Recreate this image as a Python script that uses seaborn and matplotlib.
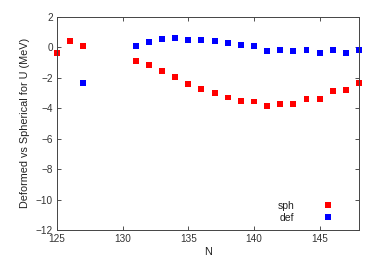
import numpy as np
import pandas as pd
import matplotlib
matplotlib.use("Agg")
import matplotlib.pyplot as plt
import seaborn as sns

# values
n_sph = [125, 126, 127, 131, 132, 133, 134, 135, 136, 137, 138, 139, 140,
         141, 142, 143, 144, 145, 146, 147, 148]
sph = [-0.37, 0.41, 0.07, -0.90, -1.18, -1.55, -1.95, -2.40, -2.71, -3.00,
       -3.30, -3.52, -3.56, -3.85, -3.72, -3.72, -3.39, -3.39, -2.88, -2.80, -2.32]

n_def = [127, 131, 132, 133, 134, 135, 136, 137, 138, 139, 140, 141, 142,
         143, 144, 145, 146, 147, 148]
deff = [-2.34, 0.09, 0.35, 0.55, 0.59, 0.50, 0.50, 0.39, 0.28, 0.15, 0.11,
        -0.24, -0.15, -0.24, -0.15, -0.39, -0.15, -0.35, -0.20]

df = pd.concat([
    pd.DataFrame({"N": n_sph, "val": sph, "kind": "sph"}),
    pd.DataFrame({"N": n_def, "val": deff, "kind": "def"}),
])

sns.set_style("ticks")
plt.rcParams["font.family"] = ["Liberation Sans", "DejaVu Sans"]

fig = plt.figure(figsize=(3.82, 2.68), dpi=100)
ax = fig.add_axes([0.149, 0.142, 0.791, 0.795])

sns.scatterplot(data=df, x="N", y="val", hue="kind", palette={"sph": "#ff0000", "def": "#0000ff"},
                marker="s", s=18, linewidth=0, ax=ax, clip_on=False)

ax.set_xlim(125, 148)
ax.set_ylim(-12, 2)
ax.set_xticks([125, 130, 135, 140, 145])
ax.set_yticks(np.arange(-12, 3, 2))
ax.tick_params(direction="in", top=True, right=True, labelsize=7.2, length=3, width=0.6, pad=3,
               colors="#333333")
for sp in ax.spines.values():
    sp.set_linewidth(0.7)
    sp.set_color("#444444")
ax.set_xlabel("N", fontsize=7.8, labelpad=2, color="#222222")
ax.set_ylabel("Deformed vs Spherical for U (MeV)", fontsize=7.8, labelpad=4, color="#222222")

leg = ax.legend(loc="lower right", frameon=False, markerfirst=False, fontsize=7.5,
                handletextpad=2.2, labelspacing=0.15, borderaxespad=0.3, bbox_to_anchor=(0.955, 0.0))
for t in leg.get_texts():
    t.set_color("#222222")

fig.savefig("out.png", dpi=100)
